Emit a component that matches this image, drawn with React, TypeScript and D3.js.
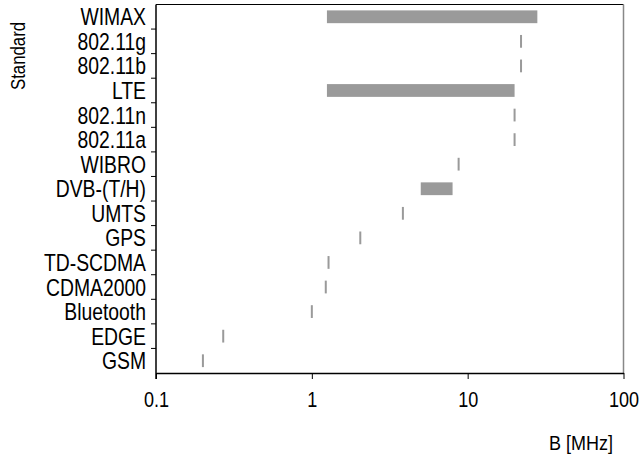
import React, { useEffect, useRef } from "react";
import * as d3 from "d3";

// standards from top to bottom
const standards = ["WIMAX", "802.11g", "802.11b", "LTE", "802.11n", "802.11a", "WIBRO", "DVB-(T/H)", "UMTS", "GPS", "TD-SCDMA", "CDMA2000", "Bluetooth", "EDGE", "GSM"];
const lowMHz = [1.25, 22, 22, 1.25, 20, 20, 8.75, 5, 3.84, 2.046, 1.28, 1.2288, 1, 0.27, 0.2];
const highMHz = [28, 22, 22, 20, 20, 20, 8.75, 8, 3.84, 2.046, 1.28, 1.2288, 1, 0.27, 0.2];
const xTicks = [0.1, 1, 10, 100];
const xTickLabels = ["0.1", "1", "10", "100"];

const FONT = "'Liberation Sans', Arial, sans-serif";
const NARROW = 0.79; // no narrow font installed, so squeeze horizontally

const App = () => {
  const svgRef = useRef<SVGSVGElement>(null);

  useEffect(() => {
    const width = 640;
    const height = 455;
    const margin = { top: 4.5, right: 16.5, bottom: 82, left: 156 };
    const svg = d3.select(svgRef.current);
    svg.selectAll("*").remove();

    const x = d3.scaleLog()
      .domain([0.1, 100])
      .range([margin.left, width - margin.right]);

    const y = d3.scaleBand()
      .domain(standards)
      .range([margin.top, height - margin.bottom])
      .paddingInner(0)
      .paddingOuter(0);

    const bw = y.bandwidth();
    const rows = standards.map((s, i) => ({ name: s, lo: lowMHz[i], hi: highMHz[i] }));

    // bars
    svg.append("g")
      .selectAll("rect")
      .data(rows)
      .enter().append("rect")
      .attr("x", d => x(d.lo) - (d.hi === d.lo ? 1 : 0))
      .attr("width", d => Math.max(2, x(d.hi) - x(d.lo)))
      .attr("y", d => (y(d.name) as number) + bw * 0.24)
      .attr("height", bw * 0.52)
      .attr("fill", "#9a9a9a");

    const x0 = margin.left;
    const x1 = width - margin.right;
    const y0 = margin.top;
    const y1 = height - margin.bottom;

    // frame: top black, right grey
    svg.append("line")
      .attr("x1", x0).attr("x2", x1).attr("y1", y0).attr("y2", y0)
      .attr("stroke", "#000").attr("stroke-width", 1.2);
    svg.append("line")
      .attr("x1", x1).attr("x2", x1).attr("y1", y0).attr("y2", y1)
      .attr("stroke", "#888").attr("stroke-width", 1.5);

    // x axis
    const xAxis = svg.append("g")
      .attr("transform", `translate(0,${y1})`)
      .call(d3.axisBottom(x)
        .tickValues(xTicks)
        .tickFormat((d, i) => xTickLabels[i])
        .tickSize(6)
        .tickSizeOuter(0)
        .tickPadding(12.5));
    xAxis.select(".domain").attr("stroke", "#000").attr("stroke-width", 1.5);
    xAxis.selectAll(".tick line").attr("stroke", "#000").attr("stroke-width", 1);
    xAxis.selectAll("text")
      .attr("font-family", FONT)
      .attr("font-size", 21.5)
      .attr("fill", "#000")
      .attr("transform", `scale(0.84,1)`);

    // y axis: labels centered in bands, ticks at band boundaries
    const yAxis = svg.append("g")
      .attr("transform", `translate(${x0},0)`)
      .call(d3.axisLeft(y).tickSize(0).tickSizeOuter(0).tickPadding(10));
    yAxis.select(".domain").remove();
    yAxis.selectAll("text")
      .attr("font-family", FONT)
      .attr("font-size", 24.5)
      .attr("fill", "#000")
      .attr("dy", "0.35em")
      .attr("x", -10 / NARROW)
      .attr("transform", `scale(${NARROW},1)`);

    svg.append("line")
      .attr("x1", x0).attr("x2", x0).attr("y1", y0).attr("y2", y1 + 6)
      .attr("stroke", "#000").attr("stroke-width", 1.5);

    svg.append("g")
      .selectAll("line")
      .data(standards.slice(1))
      .enter().append("line")
      .attr("x1", x0 - 5)
      .attr("x2", x0)
      .attr("y1", d => y(d) as number)
      .attr("y2", d => y(d) as number)
      .attr("stroke", "#000")
      .attr("stroke-width", 1);

    // axis titles
    svg.append("text")
      .attr("transform", `translate(25,56) rotate(-90) scale(0.8,1)`)
      .attr("text-anchor", "middle")
      .attr("font-family", FONT)
      .attr("font-size", 21)
      .attr("fill", "#000")
      .text("Standard");

    svg.append("text")
      .attr("transform", `translate(613,450) scale(0.9,1)`)
      .attr("text-anchor", "end")
      .attr("font-family", FONT)
      .attr("font-size", 20)
      .attr("fill", "#000")
      .text("B [MHz]");
  }, []);

  return (
    <div style={{ position: "absolute", left: 0, top: 0, width: 640, height: 455, background: "#fff" }}>
      <svg ref={svgRef} width={640} height={455} style={{ display: "block" }}></svg>
    </div>
  );
};

export default App;
